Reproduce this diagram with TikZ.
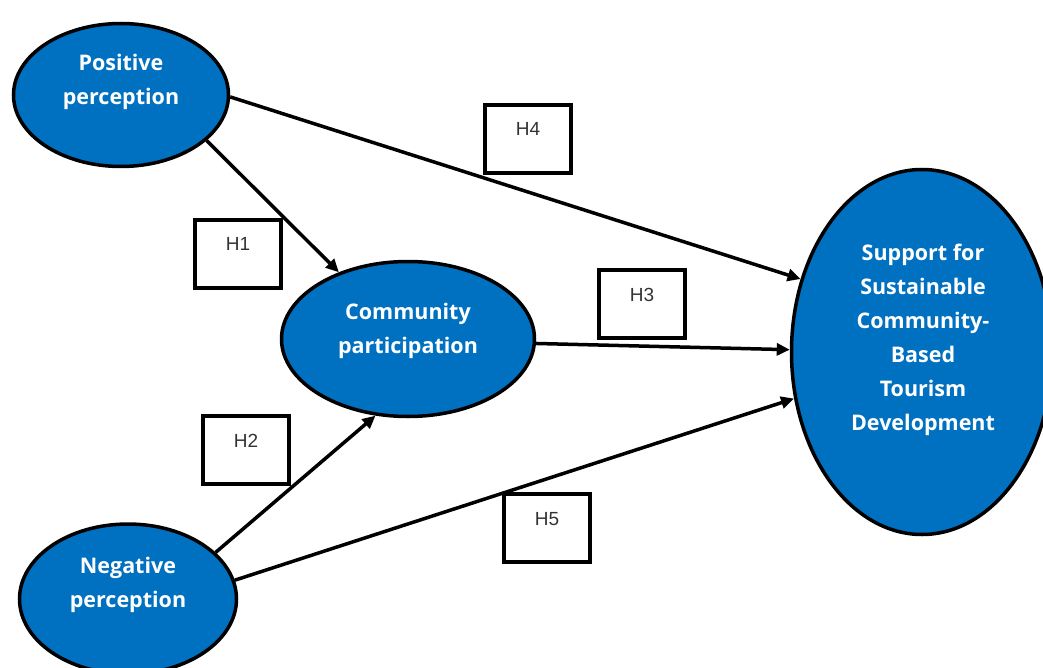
\documentclass[tikz,border=0pt]{standalone}
\usepackage{fontspec}
\setmainfont{Open Sans}
\newfontfamily\hfont{Liberation Sans}
\usepackage{tikz}
\usetikzlibrary{arrows.meta,shapes}
\definecolor{ovalblue}{RGB}{0,112,192}

\begin{document}
\begin{tikzpicture}[x=1pt,y=-1pt,
  oval/.style={ellipse,draw=black,line width=3.5pt,fill=ovalblue,inner sep=0pt},
  ovaltext/.style={text=white,font=\fontsize{21.5}{34}\selectfont\bfseries,align=center,inner sep=0pt},
  hbox/.style={draw=black,line width=4pt,minimum width=86pt,minimum height=68pt,
    text height=14pt,text depth=20pt,inner sep=0pt,text=black!80,font=\hfont\fontsize{19}{20}\selectfont},
  link/.style={black,line width=3.5pt,-{Triangle[length=13pt,width=12pt]}}]
  \useasboundingbox (0,0) rectangle (1043,668);
  \node [oval,minimum width=215pt,minimum height=143pt] (pp) at (121,95) {};
  \node [ovaltext] (pptext) at (121,82) {Positive\\perception};
  \node [oval,minimum width=217pt,minimum height=150pt] (np) at (128,599) {};
  \node [ovaltext] (nptext) at (128,585) {Negative\\perception};
  \node [oval,minimum width=253pt,minimum height=155pt] (cp) at (408,339) {};
  \node [ovaltext] (cptext) at (408,331) {Community\\participation};
  \node [oval,minimum width=261pt,minimum height=365pt] (sup) at (922,352) {};
  \node [ovaltext] (suptext) at (923,340) {Support for\\Sustainable\\Community-\\Based\\Tourism\\Development};
  \node [hbox] (h4) at (528,139) {H4};
  \node [hbox] (h1) at (238,254) {H1};
  \node [hbox] (h3) at (642,304) {H3};
  \node [hbox] (h2) at (246,450) {H2};
  \node [hbox] (h5) at (547,528) {H5};
  \draw [link] (pp.-1) -- (sup.149);
  \draw [link] (pp.-28) -- (cp.136);
  \draw [link] (cp.-2) -- (sup.179);
  \draw [link] (np.28) -- (cp.247);
  \draw [link] (np.10) -- (sup.200);
\end{tikzpicture}
\end{document}
